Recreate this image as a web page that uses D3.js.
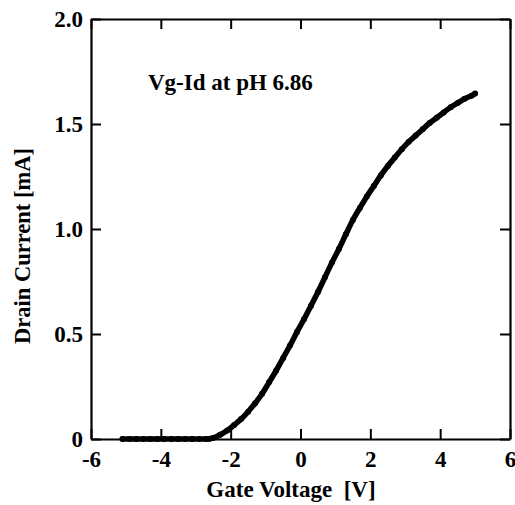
<!DOCTYPE html>
<html><head><meta charset="utf-8">
<script src="https://cdn.jsdelivr.net/npm/d3@7"></script>
<style>body{margin:0;background:#fff;} svg{display:block;}</style>
</head><body>
<svg id="c" width="515" height="505"></svg>
<script>
const gateVoltage = [-5.1,-4.9,-4.7,-4.5,-4.3,-4.1,-3.9,-3.7,-3.5,-3.3,-3.1,-2.9,-2.7,-2.6,-2.5,-2.3,-2.1,-1.9,-1.7,-1.5,-1.3,-1.1,-0.9,-0.7,-0.5,-0.3,-0.1,0.1,0.3,0.5,0.7,0.9,1.1,1.3,1.5,1.7,1.9,2.1,2.3,2.5,2.7,2.9,3.1,3.3,3.5,3.7,3.9,4.1,4.3,4.5,4.7,4.9,5.0];
const drainCurrent = [0,0,0,0,0,0,0,0,0,0,0,0,0,0.001,0.005,0.02,0.04,0.067,0.095,0.13,0.17,0.215,0.27,0.325,0.385,0.445,0.51,0.57,0.635,0.70,0.77,0.84,0.905,0.975,1.043,1.10,1.155,1.205,1.255,1.30,1.34,1.38,1.415,1.445,1.475,1.505,1.53,1.555,1.58,1.60,1.62,1.635,1.645];
const xTicks = [-6,-4,-2,0,2,4,6];
const yTicks = [0,0.5,1.0,1.5,2.0];
const yTickLabels = ["0","0.5","1.0","1.5","2.0"];
const title = "Vg-Id at pH 6.86";

const svg = d3.select("#c");
const L=91, R=510, T=19, B=439;
const x = d3.scaleLinear().domain([-6,6]).range([L,R]);
const y = d3.scaleLinear().domain([0,2]).range([B,T]);
const font = "'Liberation Serif','Times New Roman',serif";

const data = gateVoltage.map((v,i)=>({v, c: drainCurrent[i]}));
const g = svg.append("g");
g.append("path").datum(data)
 .attr("d", d3.line().x(d=>x(d.v)).y(d=>y(d.c)).curve(d3.curveMonotoneX))
 .attr("fill","none").attr("stroke","#000").attr("stroke-width",5.5).attr("stroke-linecap","round");
g.selectAll("circle").data(data).enter().append("circle")
 .attr("cx",d=>x(d.v)).attr("cy",d=>y(d.c)).attr("r",3).attr("fill","#000");

// axes
const tl = 10;
const axB = svg.append("g").attr("transform",`translate(0,${B})`).call(d3.axisBottom(x).tickValues(xTicks).tickSizeInner(-tl).tickSizeOuter(0).tickPadding(12).tickFormat(d=>String(d)));
const axT = svg.append("g").attr("transform",`translate(0,${T})`).call(d3.axisTop(x).tickValues(xTicks).tickSizeInner(-tl).tickSizeOuter(0).tickFormat(""));
const axL = svg.append("g").attr("transform",`translate(${L},0)`).call(d3.axisLeft(y).tickValues(yTicks).tickSizeInner(-tl).tickSizeOuter(0).tickPadding(8).tickFormat((d,i)=>yTickLabels[i]));
const axR = svg.append("g").attr("transform",`translate(${R},0)`).call(d3.axisRight(y).tickValues(yTicks).tickSizeInner(-tl).tickSizeOuter(0).tickFormat(""));
[axB,axT,axL,axR].forEach(a=>{
  a.selectAll(".domain").attr("stroke","#000").attr("stroke-width",2.2);
  a.selectAll(".tick line").attr("stroke","#000").attr("stroke-width",2);
  a.selectAll("text").attr("font-family",font).attr("font-weight","bold").attr("font-size",23).attr("fill","#000");
});
axB.selectAll(".tick text").attr("dy","0.71em");

svg.append("text").attr("x",148).attr("y",90).attr("font-family",font).attr("font-weight","bold").attr("font-size",23).text(title);
svg.append("text").attr("x",291).attr("y",497).attr("text-anchor","middle").attr("font-family",font).attr("font-weight","bold").attr("font-size",23).attr("xml:space","preserve").style("white-space","pre").text("Gate Voltage  [V]");
svg.append("text").attr("transform","translate(30,246) rotate(-90)").attr("text-anchor","middle").attr("font-family",font).attr("font-weight","bold").attr("font-size",22.5).text("Drain Current [mA]");
</script>
</body></html>
